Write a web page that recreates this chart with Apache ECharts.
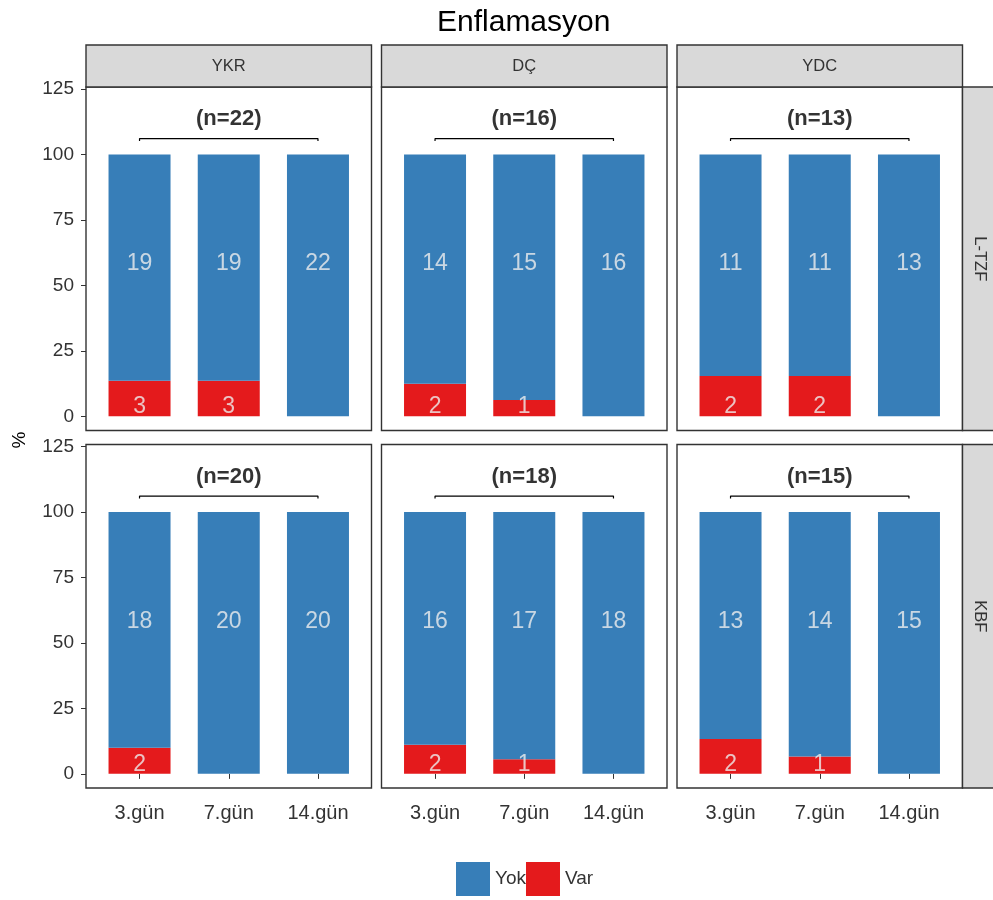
<!DOCTYPE html>
<html>
<head>
<meta charset="utf-8">
<script src="https://cdn.jsdelivr.net/npm/echarts@6/dist/echarts.min.js"></script>
<style>html,body{margin:0;padding:0;background:#fff;}#c{width:993px;height:900px;}</style>
</head>
<body>
<div id="c"></div>
<script>
// ---- data ----
const columns = ['YKR', 'DÇ', 'YDC'];
const rows = ['L-TZF', 'KBF'];
const days = ['3.gün', '7.gün', '14.gün'];
const yTicks = [0, 25, 50, 75, 100, 125];
// counts per column (YKR, DÇ, YDC), each by day
const yokLTZF = [[19, 19, 22], [14, 15, 16], [11, 11, 13]];
const varLTZF = [[3, 3, 0], [2, 1, 0], [2, 2, 0]];
const yokKBF = [[18, 20, 20], [16, 17, 18], [13, 14, 15]];
const varKBF = [[2, 0, 0], [2, 1, 0], [2, 1, 0]];
const nLTZF = [22, 16, 13];
const nKBF = [20, 18, 15];
const yokLabelY = 58.3;
const varLabelY = 3.6;
const bracketY = 106.1;
const bracketEndY = 105.2;
const nLabelY = 113.5;

// ---- layout ----
const FONT = 'Liberation Sans, Arial, sans-serif';
const colLeft = [86, 381.5, 677];
const colWidth = 285.5;
const rowTop = [87, 444.5];
const rowHeight = 343.5;
const stripTop = 45;
const stripH = 42;
const blue = '#377EB8', red = '#E41A1C';

const yokData = [yokLTZF, yokKBF];
const varData = [varLTZF, varKBF];
const nData = [nLTZF, nKBF];

const grid = [], xAxis = [], yAxis = [], series = [];
for (let r = 0; r < 2; r++) {
  for (let c = 0; c < 3; c++) {
    const idx = r * 3 + c;
    grid.push({left: colLeft[c], top: rowTop[r], width: colWidth, height: rowHeight,
      show: true, borderColor: '#333', borderWidth: 1.4, backgroundColor: '#fff'});
    xAxis.push({gridIndex: idx, type: 'value', min: 0.4, max: 3.6,
      splitLine: {show: false}, axisLine: {show: false},
      axisTick: {show: r === 1, customValues: [1, 2, 3], length: 5, lineStyle: {color: '#333'}},
      axisLabel: {show: r === 1, customValues: [1, 2, 3], formatter: v => days[Math.round(v) - 1],
        fontSize: 20, color: '#333', margin: 15, fontFamily: FONT}});
    yAxis.push({gridIndex: idx, type: 'value', min: -5.4, max: 125.8,
      splitLine: {show: false}, axisLine: {show: false},
      axisTick: {show: c === 0, customValues: yTicks, length: 5, lineStyle: {color: '#333'}},
      axisLabel: {show: c === 0, customValues: yTicks, fontSize: 19, color: '#333', margin: 12, fontFamily: FONT}});
    const n = nData[r][c];
    const yk = yokData[r][c], vr = varData[r][c];
    // data items are [percent, dayPosition]; encode maps them so the value dimension is stacked
    series.push({type: 'bar', name: 'Var', xAxisIndex: idx, yAxisIndex: idx, stack: 's' + idx,
      encode: {x: 1, y: 0}, barWidth: 62, itemStyle: {color: red}, silent: true,
      data: days.map((d, i) => [100 * vr[i] / n, i + 1])});
    series.push({type: 'bar', name: 'Yok', xAxisIndex: idx, yAxisIndex: idx, stack: 's' + idx,
      encode: {x: 1, y: 0}, barWidth: 62, itemStyle: {color: blue}, silent: true,
      data: days.map((d, i) => [100 * yk[i] / n, i + 1])});
    series.push({type: 'scatter', xAxisIndex: idx, yAxisIndex: idx, symbolSize: 0, silent: true, z: 5,
      label: {show: true, position: 'inside', formatter: p => p.value[2], fontSize: 23, color: '#eeeeee', fontFamily: FONT},
      data: days.map((d, i) => [i + 1, yokLabelY, yk[i]])});
    series.push({type: 'scatter', xAxisIndex: idx, yAxisIndex: idx, symbolSize: 0, silent: true, z: 5,
      label: {show: true, position: 'inside', formatter: p => p.value[2], fontSize: 23, color: '#eeeeee', fontFamily: FONT},
      data: days.map((d, i) => [i + 1, varLabelY, vr[i]]).filter(p => p[2] > 0)});
    series.push({type: 'line', xAxisIndex: idx, yAxisIndex: idx, symbol: 'none', silent: true,
      lineStyle: {color: '#000', width: 1.2},
      data: [[1, bracketEndY], [1, bracketY], [3, bracketY], [3, bracketEndY]]});
    series.push({type: 'scatter', xAxisIndex: idx, yAxisIndex: idx, symbolSize: 0, silent: true,
      label: {show: true, position: 'inside', formatter: () => '(n=' + n + ')', fontSize: 22, fontWeight: 'bold', color: '#000', fontFamily: FONT},
      data: [[2, nLabelY]]});
  }
}

const graphic = [];
for (let c = 0; c < 3; c++) {
  graphic.push({type: 'rect', shape: {x: colLeft[c], y: stripTop, width: colWidth, height: stripH},
    style: {fill: '#D9D9D9', stroke: '#333', lineWidth: 1.4}});
  graphic.push({type: 'text', x: colLeft[c] + colWidth / 2, y: stripTop + stripH / 2,
    style: {text: columns[c], fontSize: 16.5, fill: '#333', fontFamily: FONT,
      align: 'center', verticalAlign: 'middle', textAlign: 'center', textVerticalAlign: 'middle'}});
}
for (let r = 0; r < 2; r++) {
  graphic.push({type: 'rect', shape: {x: colLeft[2] + colWidth, y: rowTop[r], width: 45, height: rowHeight},
    style: {fill: '#D9D9D9', stroke: '#333', lineWidth: 1.4}});
  graphic.push({type: 'text', x: 980, y: rowTop[r] + rowHeight / 2, rotation: -Math.PI / 2,
    style: {text: rows[r], fontSize: 16.5, fill: '#333', fontFamily: FONT,
      align: 'center', verticalAlign: 'middle', textAlign: 'center', textVerticalAlign: 'middle'}});
}
graphic.push({type: 'text', x: 20, y: 440, rotation: Math.PI / 2,
  style: {text: '%', fontSize: 19, fill: '#000', fontFamily: FONT,
    align: 'center', verticalAlign: 'middle', textAlign: 'center', textVerticalAlign: 'middle'}});

const chart = echarts.init(document.getElementById('c'), null, {renderer: 'canvas'});
chart.setOption({
  animation: false,
  backgroundColor: '#fff',
  textStyle: {fontFamily: FONT},
  title: {text: 'Enflamasyon', left: 432, top: 3,
    textStyle: {fontSize: 30, fontWeight: 'normal', color: '#000', fontFamily: FONT}},
  legend: {data: ['Yok', 'Var'], left: 456, top: 862, padding: 0, itemWidth: 34, itemHeight: 34, itemGap: 0,
    icon: 'rect', textStyle: {fontSize: 19, color: '#333', fontFamily: FONT}},
  grid, xAxis, yAxis, series, graphic
});
</script>
</body>
</html>
